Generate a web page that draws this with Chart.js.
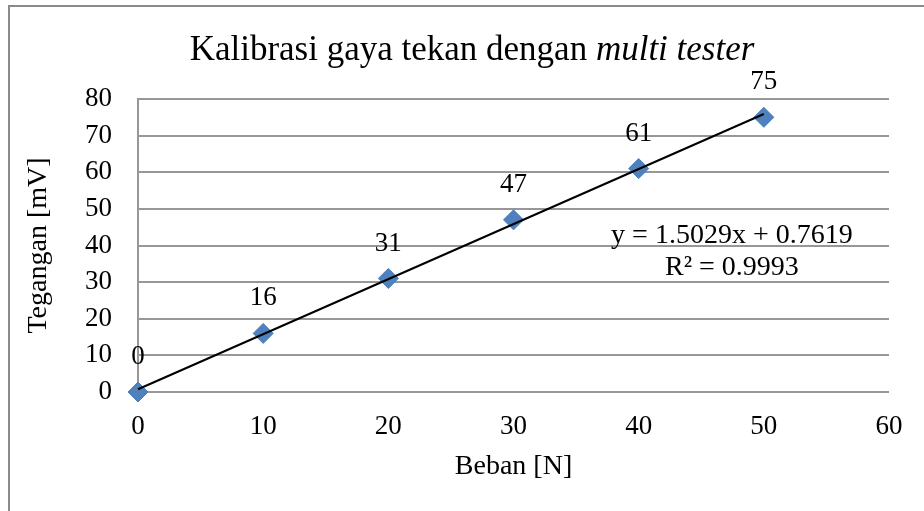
<!DOCTYPE html>
<html>
<head>
<meta charset="utf-8">
<script src="https://cdn.jsdelivr.net/npm/chart.js@4"></script>
<style>
  html, body { margin: 0; padding: 0; background: #fff; }
  #wrap { width: 924px; height: 511px; position: relative; }
</style>
</head>
<body>
<div id="wrap"><canvas id="c"></canvas></div>
<script>
// ---- data ----
const loadN = [0, 10, 20, 30, 40, 50];          // Beban [N]
const voltageMV = [0, 16, 31, 47, 61, 75];       // Tegangan [mV]
const trendX = [0, 50];                          // linear trendline end points
const trendY = [0.76, 75.91];
const xTickMin = 0, xTickMax = 60, xTickStep = 10;
const yTickMin = 0, yTickMax = 80, yTickStep = 10;
const titleRegular = 'Kalibrasi gaya tekan dengan ';
const titleItalic = 'multi tester';
const xTitle = 'Beban [N]';
const yTitle = 'Tegangan [mV]';
const equationLines = ['y = 1.5029x + 0.7619', 'R² = 0.9993'];
const equationAt = { x: 47.45, y: 43.1 };        // in data units

const SERIF = "'Liberation Serif', 'Times New Roman', serif";
const GRID = '#979797';

const framePlugin = {
  id: 'frame',
  beforeDraw(chart) {
    const ctx = chart.ctx;
    ctx.save();
    ctx.fillStyle = '#ffffff';
    ctx.fillRect(0, 0, chart.width, chart.height);
    ctx.fillStyle = '#8a8a8a';
    ctx.fillRect(8, 5, chart.width - 8, 2);
    ctx.fillRect(8, 5, 2, chart.height - 5);
    ctx.restore();
  }
};

const titlePlugin = {
  id: 'mixedTitle',
  afterDraw(chart) {
    const ctx = chart.ctx;
    ctx.save();
    ctx.fillStyle = '#000';
    ctx.textBaseline = 'alphabetic';
    ctx.textAlign = 'left';
    ctx.font = '35px ' + SERIF;
    const w1 = ctx.measureText(titleRegular).width;
    ctx.font = 'italic 35px ' + SERIF;
    const w2 = ctx.measureText(titleItalic).width;
    const x0 = 472 - (w1 + w2) / 2;
    ctx.font = '35px ' + SERIF;
    ctx.fillText(titleRegular, x0, 60);
    ctx.font = 'italic 35px ' + SERIF;
    ctx.fillText(titleItalic, x0 + w1, 60);
    ctx.restore();
  }
};

const labelPlugin = {
  id: 'pointLabels',
  afterDatasetsDraw(chart) {
    const ctx = chart.ctx;
    const meta = chart.getDatasetMeta(1);
    const ds = chart.data.datasets[1];
    ctx.save();
    ctx.fillStyle = '#000';
    ctx.font = '27px ' + SERIF;
    ctx.textAlign = 'center';
    ctx.textBaseline = 'middle';
    meta.data.forEach((pt, i) => {
      ctx.fillText(String(ds.data[i].y), pt.x, pt.y - 35);
    });
    // trendline equation
    const xs = chart.scales.x, ys = chart.scales.y;
    const cx = xs.getPixelForValue(equationAt.x);
    const cy = ys.getPixelForValue(equationAt.y);
    ctx.font = '28px ' + SERIF;
    equationLines.forEach((t, i) => ctx.fillText(t, cx, cy + 1 + i * 32));
    ctx.restore();
  }
};

new Chart(document.getElementById('c'), {
  type: 'scatter',
  data: {
    datasets: [
      {
        label: 'Trendline',
        type: 'line',
        data: trendX.map((x, i) => ({ x: x, y: trendY[i] })),
        borderColor: '#000',
        borderWidth: 2,
        pointRadius: 0,
        fill: false,
        showLine: true
      },
      {
        label: 'Tegangan',
        data: loadN.map((x, i) => ({ x: x, y: voltageMV[i] })),
        pointStyle: 'rectRot',
        pointRadius: 10,
        backgroundColor: '#4f81bd',
        borderColor: '#4a7ebb',
        borderWidth: 1
      }
    ]
  },
  options: {
    responsive: true,
    maintainAspectRatio: false,
    animation: false,
    clip: false,
    layout: { padding: { top: 99, right: 35, left: 0, bottom: 0 } },
    plugins: {
      legend: { display: false },
      tooltip: { enabled: false },
      title: { display: false }
    },
    scales: {
      x: {
        type: 'linear',
        min: xTickMin, max: xTickMax,
        afterFit(s) { s.height = 119; },
        ticks: { stepSize: xTickStep, color: '#000', font: { family: SERIF, size: 27 }, padding: 11 },
        grid: { display: false },
        border: { display: false },
        title: { display: true, text: xTitle, color: '#000', font: { family: SERIF, size: 28 }, padding: { top: 0, bottom: 28 } }
      },
      y: {
        type: 'linear',
        min: yTickMin, max: yTickMax,
        afterFit(s) { s.width = 138; },
        ticks: { stepSize: yTickStep, color: '#000', font: { family: SERIF, size: 27 }, padding: 26 },
        grid: { color: GRID, lineWidth: 2, drawTicks: false },
        border: { display: true, color: GRID, width: 2 },
        title: { display: true, text: yTitle, color: '#000', font: { family: SERIF, size: 28 }, padding: { top: 22, bottom: 0 } }
      }
    }
  },
  plugins: [framePlugin, titlePlugin, labelPlugin]
});
</script>
</body>
</html>
